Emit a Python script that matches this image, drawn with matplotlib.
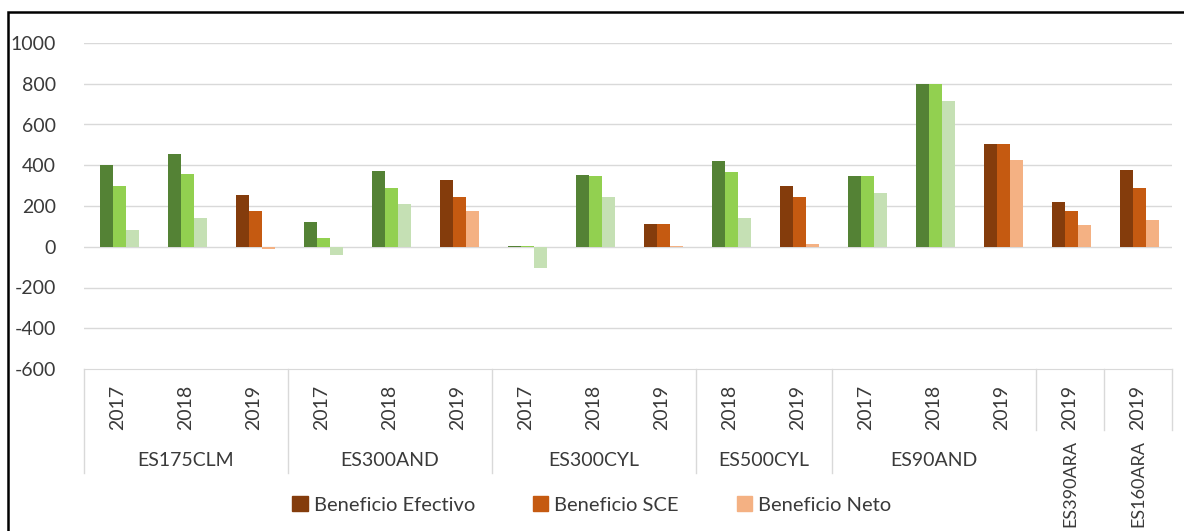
import matplotlib
matplotlib.use('Agg')
import matplotlib.pyplot as plt
from matplotlib.patches import Patch, Rectangle
import numpy as np

plt.rcParams['font.family'] = ['Lato', 'DejaVu Sans']

# Data
groups = ["ES175CLM", "ES300AND", "ES300CYL", "ES500CYL", "ES90AND", "ES390ARA", "ES160ARA"]
group_years = [
    ["2017", "2018", "2019"],
    ["2017", "2018", "2019"],
    ["2017", "2018", "2019"],
    ["2018", "2019"],
    ["2017", "2018", "2019"],
    ["2019"],
    ["2019"],
]
efectivo = [400, 455, 255, 120, 370, 330, 5, 350, 110, 420, 300, 345, 800, 505, 220, 375]
sce      = [300, 355, 175, 45, 290, 245, 5, 345, 110, 365, 245, 345, 800, 505, 175, 290]
neto     = [80, 140, -10, -40, 210, 175, -105, 245, 4, 140, 15, 265, 715, 425, 105, 130]
series_labels = ["Beneficio Efectivo", "Beneficio SCE", "Beneficio Neto"]
yticks = [-600, -400, -200, 0, 200, 400, 600, 800, 1000]

# Colours: 2019 in browns (legend), earlier years in greens
browns = ["#843C0C", "#C55A11", "#F4B183"]
greens = ["#548235", "#92D050", "#C5E0B4"]
txt = "#3a3a3a"
gridc = "#D9D9D9"

years = [y for g in group_years for y in g]
n = len(years)
x = np.arange(n)

fig = plt.figure(figsize=(11.84, 5.31), dpi=100)
W, H = 1184, 531
ax = fig.add_axes([84 / W, 1 - 369 / H, (1172 - 84) / W, (369 - 43) / H])

bw = 0.19
for k, vals in enumerate([efectivo, sce, neto]):
    cols = [browns[k] if y == "2019" else greens[k] for y in years]
    ax.bar(x + (k - 1) * bw + 0.02, vals, width=bw, color=cols, zorder=3)

ax.set_xlim(-0.5, n - 0.5)
ax.set_ylim(-600, 1000)
ax.set_yticks(yticks)
ax.set_yticklabels([str(v) for v in yticks], fontsize=14, color=txt)
ax.tick_params(axis='y', length=0, pad=20)
ax.tick_params(axis='x', length=0, labelbottom=False)
for v in yticks[1:]:
    ax.axhline(v, color=gridc, lw=1, zorder=1)
for s in ax.spines.values():
    s.set_visible(False)
ax.spines['bottom'].set_visible(True)
ax.spines['bottom'].set_color(gridc)

# Multi-level category axis
tr = ax.get_xaxis_transform()
y_full = -(473 - 369) / 326
y_short = -(430 - 369) / 326
y_year = -(407 - 369) / 326
y_group = -(460 - 369) / 326
y_rot = -(440 - 369) / 326

sizes = [len(ys) for ys in group_years]
ax.plot([-0.5, -0.5], [0, y_full], color=gridc, lw=1, transform=tr, clip_on=False)
start = 0
for gi, (g, ys) in enumerate(zip(groups, group_years)):
    m = len(ys)
    end = start + m
    for i, yl in enumerate(ys):
        ax.text(start + i, y_year, yl, rotation=90, ha='center', va='center',
                fontsize=14, color=txt, transform=tr)
    nxt = sizes[gi + 1] if gi + 1 < len(sizes) else 1
    bottom = y_short if (m == 1 or nxt == 1) else y_full
    ax.plot([end - 0.5, end - 0.5], [0, bottom], color=gridc, lw=1, transform=tr, clip_on=False)
    if m == 1:
        ax.text(start, y_rot, g, rotation=90, ha='center', va='top',
                fontsize=13, color=txt, transform=tr)
    else:
        ax.text(start + (m - 1) / 2, y_group, g, ha='center', va='center',
                fontsize=14, color=txt, transform=tr)
    start = end

handles = [Patch(color=c) for c in browns]
fig.legend(handles, series_labels, loc='center', bbox_to_anchor=(592 / W, 1 - 505 / H),
           ncol=3, frameon=False, fontsize=14.5, handlelength=0.75, handleheight=0.75,
           handletextpad=0.3, columnspacing=2.9, labelcolor=txt)

# Outer frame
fig.patches.append(Rectangle((8 / W, -0.1), 1.2, 1 - 12 / H + 0.1, fill=False,
                             ec='black', lw=1.8, transform=fig.transFigure))

fig.savefig("out.png", dpi=100)
